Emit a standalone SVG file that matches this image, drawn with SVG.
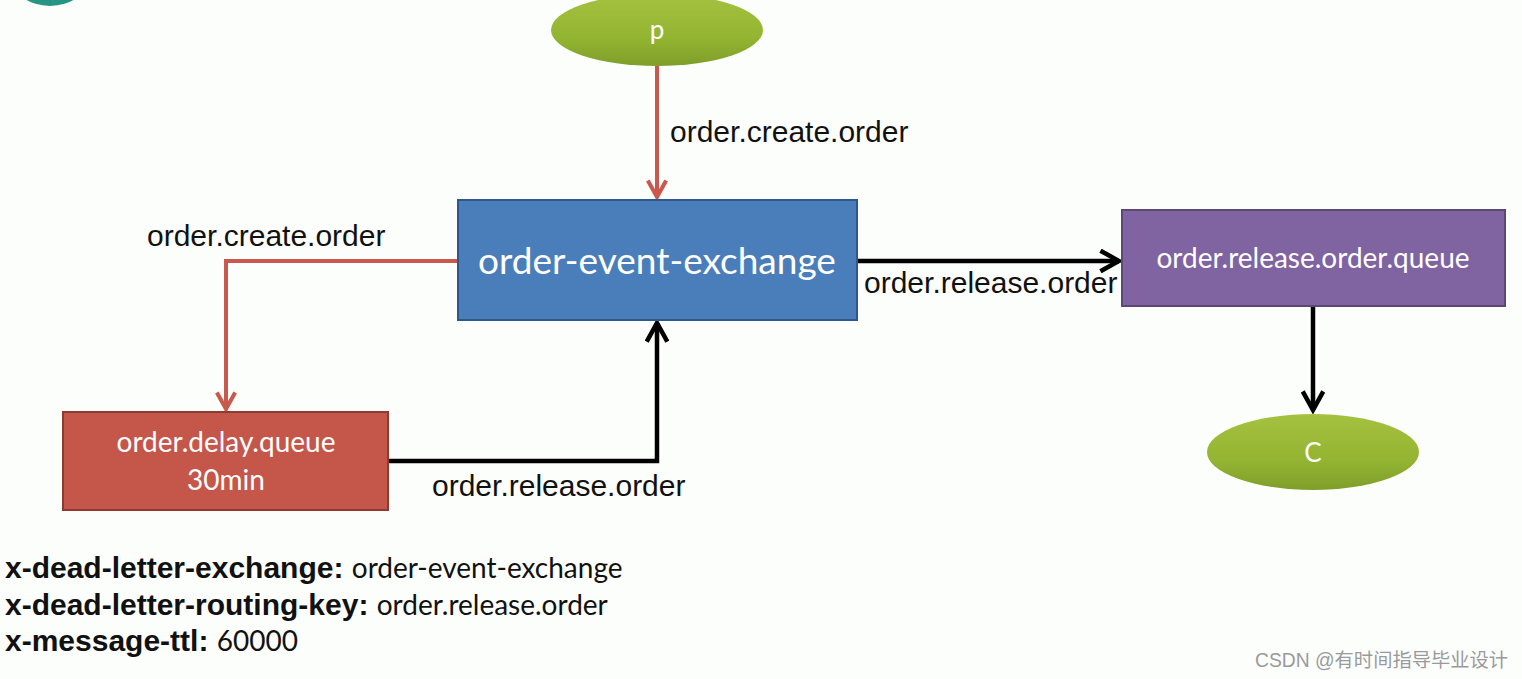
<svg xmlns="http://www.w3.org/2000/svg" width="1522" height="679" viewBox="0 0 1522 679">
<style>
.lbl{font-family:"Liberation Sans",Arial,sans-serif;font-size:30px;fill:#111}
.nt{font-family:Lato,"Open Sans",sans-serif;fill:#fff;text-anchor:middle}
.red{stroke:#c9584d;stroke-width:4;fill:none}
.blk{stroke:#000;stroke-width:4.5;fill:none}
.kb{font-family:"Liberation Sans",Arial,sans-serif;font-weight:bold;font-size:30px;fill:#111}
.kv{font-family:Lato,"Open Sans",sans-serif;font-weight:normal;font-size:28px}
</style>
<defs>
<linearGradient id="g" x1="0" y1="0" x2="0" y2="1">
<stop offset="0" stop-color="#a5c13f"/>
<stop offset="0.6" stop-color="#94b532"/>
<stop offset="1" stop-color="#7f9e2a"/>
</linearGradient>
<marker id="ar" viewBox="0 0 12 12" refX="10" refY="6" markerWidth="5.5" markerHeight="5.5" orient="auto" markerUnits="strokeWidth">
<polyline points="1,1 10,6 1,11" fill="none" stroke="#c9584d" stroke-width="2.2" stroke-linejoin="miter"/>
</marker>
<marker id="ab" viewBox="0 0 12 12" refX="10" refY="6" markerWidth="5.5" markerHeight="5.5" orient="auto" markerUnits="strokeWidth">
<polyline points="1,1 10,6 1,11" fill="none" stroke="#000" stroke-width="2.2"/>
</marker>
</defs>
<rect width="1522" height="679" fill="#fcfefc"/>
<ellipse cx="50" cy="-22" rx="38" ry="28" fill="#279485"/>
<circle cx="1548" cy="-22" r="34" fill="#279485"/>

<g id="connectors">
<line class="red" x1="657" y1="66" x2="657" y2="197" marker-end="url(#ar)"/>
<text class="lbl" x="670" y="142">order.create.order</text>
<polyline class="red" points="458,261 226,261 226,409" marker-end="url(#ar)"/>
<text class="lbl" x="147" y="246">order.create.order</text>
<polyline class="blk" points="388,461 657,461 657,323" marker-end="url(#ab)"/>
<text class="lbl" x="432" y="496">order.release.order</text>
<line class="blk" x1="857" y1="261" x2="1119" y2="261" marker-end="url(#ab)"/>
<text class="lbl" x="864" y="293">order.release.order</text>
<line class="blk" x1="1313" y1="306" x2="1313" y2="410" marker-end="url(#ab)"/>
</g>

<g id="p">
<ellipse cx="657" cy="30" rx="106" ry="36" fill="url(#g)"/>
<text class="nt" x="657" y="39" font-size="26">p</text>
</g>

<g id="exchange">
<rect x="458" y="200" width="399" height="120" fill="#4a7ebb" stroke="#2f5788" stroke-width="2"/>
<text class="nt" x="657" y="274" font-size="37">order-event-exchange</text>
</g>

<g id="delay-queue">
<rect x="63" y="412" width="325" height="98" fill="#c5564a" stroke="#8e3a33" stroke-width="2"/>
<text class="nt" x="226" y="452" font-size="28">order.delay.queue</text>
<text class="nt" x="226" y="490" font-size="28">30min</text>
</g>

<g id="release-queue">
<rect x="1122" y="210" width="383" height="96" fill="#8064a2" stroke="#5b4876" stroke-width="2"/>
<text class="nt" x="1313" y="268" font-size="28">order.release.order.queue</text>
</g>

<g id="c">
<ellipse cx="1313" cy="452" rx="106" ry="38" fill="url(#g)"/>
<text class="nt" x="1313" y="462" font-size="26">C</text>
</g>

<g id="args">
<text class="kb" x="5" y="578">x-dead-letter-exchange: <tspan class="kv">order-event-exchange</tspan></text>
<text class="kb" x="5" y="615">x-dead-letter-routing-key: <tspan class="kv">order.release.order</tspan></text>
<text class="kb" x="5" y="651">x-message-ttl: <tspan class="kv">60000</tspan></text>
</g>

<text x="1255" y="667" font-family="'Liberation Sans','Noto Sans CJK SC',sans-serif" font-size="19.3" fill="#9a9a9a">CSDN @有时间指导毕业设计</text>
</svg>
